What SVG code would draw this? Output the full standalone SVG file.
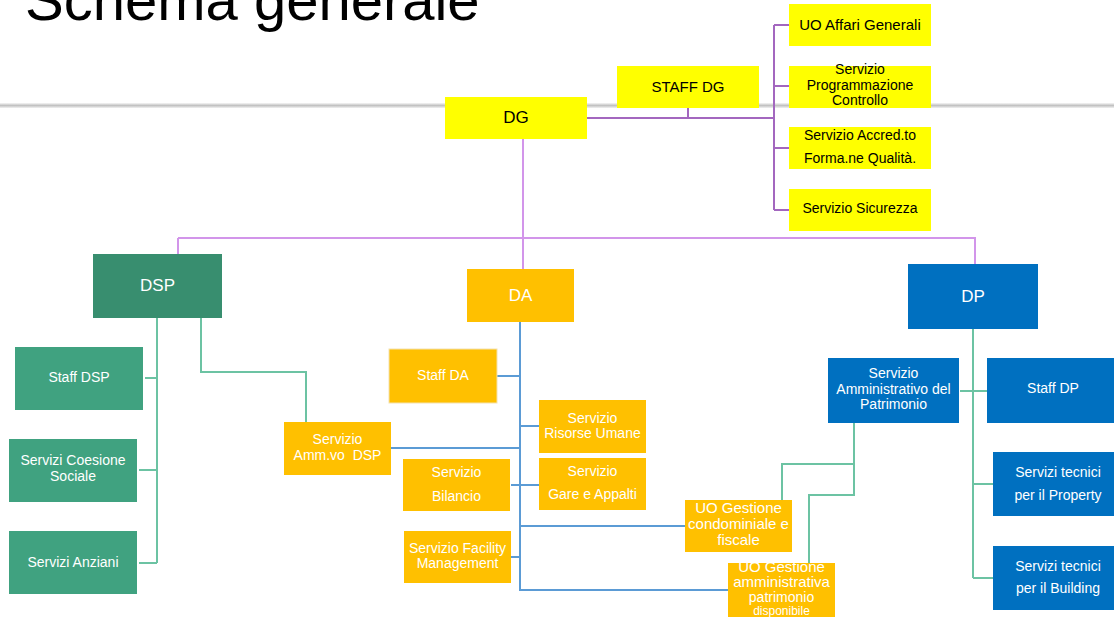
<svg xmlns="http://www.w3.org/2000/svg" width="1114" height="617" viewBox="0 0 1114 617">
<defs>
<linearGradient id="rule" x1="0" y1="0" x2="0" y2="1">
<stop offset="0" stop-color="#f6f6f6"/>
<stop offset="0.5" stop-color="#c2c2c2"/>
<stop offset="1" stop-color="#f1f1f1"/>
</linearGradient>
</defs>
<style>
text{font-family:"Liberation Sans",Arial,sans-serif;text-anchor:middle;font-size:14px;white-space:pre}
.yel rect{fill:#FFFF00}
.yel text{fill:#000}
.amb rect{fill:#FFC000}
.dsp rect{fill:#388E6F}
.grn rect{fill:#40A280}
.blu rect{fill:#0070C0}
.amb text,.dsp text,.grn text,.blu text{fill:#fff}
.big{font-size:17px}
.f15{font-size:15px}
.conn path{fill:none;stroke-width:2}
.pd{stroke:#A367BF}
.pl{stroke:#D295EA;stroke-width:1.6}
.gr{stroke:#6CC3A3}
.bl{stroke:#5B9BD5}
</style>
<rect x="0" y="0" width="1114" height="617" fill="#fff"/>
<rect x="0" y="103" width="1114" height="5" fill="url(#rule)"/>
<text x="25" y="20" style="font-size:58px;text-anchor:start;fill:#000">Schema generale</text>

<g id="connectors" class="conn">
<path class="pd" d="M587,118 H774 M688,108 V118 M774,25 V210 M774,25 H789 M774,86 H789 M774,148 H789 M774,210 H789"/>
<path class="pd pl" d="M523,139 V269 M178,238 H976 M178,238 V255 M975,238 V264"/>
<path class="gr" d="M157,318 V563 M145,378 H157 M139,470 H157 M139,563 H157 M201,318 V372 H306 V422"/>
<path class="gr" d="M973,329 V578 M960,391 H987 M973,484 H993 M973,578 H993 M854,423 V495 H809 V563 M854,464 H782 V500"/>
<path class="bl" d="M520,322 V590 H728 M497,376 H520 M520,426 H539 M391,448 H520 M511,485 H539 M511,557 H520 M520,526 H685"/>
</g>

<g id="dg" class="yel"><rect x="445" y="97" width="142" height="42"/><text x="516" y="123" class="big">DG</text></g>
<g id="staff-dg" class="yel"><rect x="617" y="66" width="142" height="42"/><text x="688" y="92" class="f15">STAFF DG</text></g>
<g id="uo-affari-generali" class="yel"><rect x="789" y="4" width="142" height="42"/><text x="860" y="30" class="f15">UO Affari Generali</text></g>
<g id="servizio-programmazione" class="yel"><rect x="789" y="66" width="142" height="42"/><text x="860" y="74">Servizio</text><text x="860" y="90">Programmazione</text><text x="860" y="105">Controllo</text></g>
<g id="servizio-accreditamento" class="yel"><rect x="789" y="127" width="142" height="42"/><text x="860" y="140">Servizio Accred.to</text><text x="860" y="163">Forma.ne Qualità.</text></g>
<g id="servizio-sicurezza" class="yel"><rect x="789" y="189" width="142" height="42"/><text x="860" y="213">Servizio Sicurezza</text></g>

<g id="dsp" class="dsp"><rect x="93" y="254" width="129" height="64"/><text x="157.5" y="291" class="big">DSP</text></g>
<g id="staff-dsp" class="grn"><rect x="15" y="347" width="128" height="63"/><text x="79" y="382">Staff DSP</text></g>
<g id="servizi-coesione-sociale" class="grn"><rect x="9" y="439" width="128" height="63"/><text x="73" y="465">Servizi Coesione</text><text x="73" y="481">Sociale</text></g>
<g id="servizi-anziani" class="grn"><rect x="9" y="531" width="128" height="63"/><text x="73" y="567">Servizi Anziani</text></g>
<g id="servizio-ammvo-dsp" class="amb"><rect x="284" y="422" width="107" height="53"/><text x="337.5" y="444">Servizio</text><text x="337.5" y="460">Amm.vo  DSP</text></g>

<g id="da" class="amb"><rect x="467" y="269" width="107" height="53"/><text x="520.5" y="301" class="big">DA</text></g>
<g id="staff-da" class="amb"><rect x="389" y="349" width="108" height="54" stroke="#f3e2b0" stroke-width="1"/><text x="443" y="380">Staff DA</text></g>
<g id="servizio-risorse-umane" class="amb"><rect x="539" y="400" width="107" height="53"/><text x="592.5" y="423">Servizio</text><text x="592.5" y="438">Risorse Umane</text></g>
<g id="servizio-bilancio" class="amb"><rect x="403" y="459" width="107" height="52"/><text x="456.5" y="477">Servizio</text><text x="456.5" y="501">Bilancio</text></g>
<g id="servizio-gare-appalti" class="amb"><rect x="539" y="458" width="107" height="52"/><text x="592.5" y="476">Servizio</text><text x="592.5" y="499">Gare e Appalti</text></g>
<g id="servizio-facility" class="amb"><rect x="404" y="531" width="107" height="52"/><text x="457.5" y="553">Servizio Facility</text><text x="457.5" y="568">Management</text></g>
<g id="uo-gestione-condominiale" class="amb"><rect x="685" y="500" width="107" height="52"/><text x="738.5" y="513" class="f15">UO Gestione</text><text x="738.5" y="529" class="f15">condominiale e</text><text x="738.5" y="545" class="f15">fiscale</text></g>
<g id="uo-gestione-amministrativa" class="amb"><rect x="728" y="563" width="107" height="56"/><text x="781.5" y="572" class="f15">UO Gestione</text><text x="781.5" y="587" class="f15">amministrativa</text><text x="781.5" y="602">patrimonio</text><text x="781.5" y="615" style="font-size:12px">disponibile</text></g>

<g id="dp" class="blu"><rect x="908" y="264" width="130" height="65"/><text x="973" y="302" class="big">DP</text></g>
<g id="servizio-amministrativo-patrimonio" class="blu"><rect x="828" y="358" width="131" height="65"/><text x="893.5" y="378">Servizio</text><text x="893.5" y="394">Amministrativo del</text><text x="893.5" y="409">Patrimonio</text></g>
<g id="staff-dp" class="blu"><rect x="987" y="358" width="132" height="65"/><text x="1053" y="393">Staff DP</text></g>
<g id="servizi-tecnici-property" class="blu"><rect x="993" y="452" width="130" height="64"/><text x="1058" y="477">Servizi tecnici</text><text x="1058" y="500">per il Property</text></g>
<g id="servizi-tecnici-building" class="blu"><rect x="993" y="546" width="130" height="64"/><text x="1058" y="571">Servizi tecnici</text><text x="1058" y="593">per il Building</text></g>
</svg>
